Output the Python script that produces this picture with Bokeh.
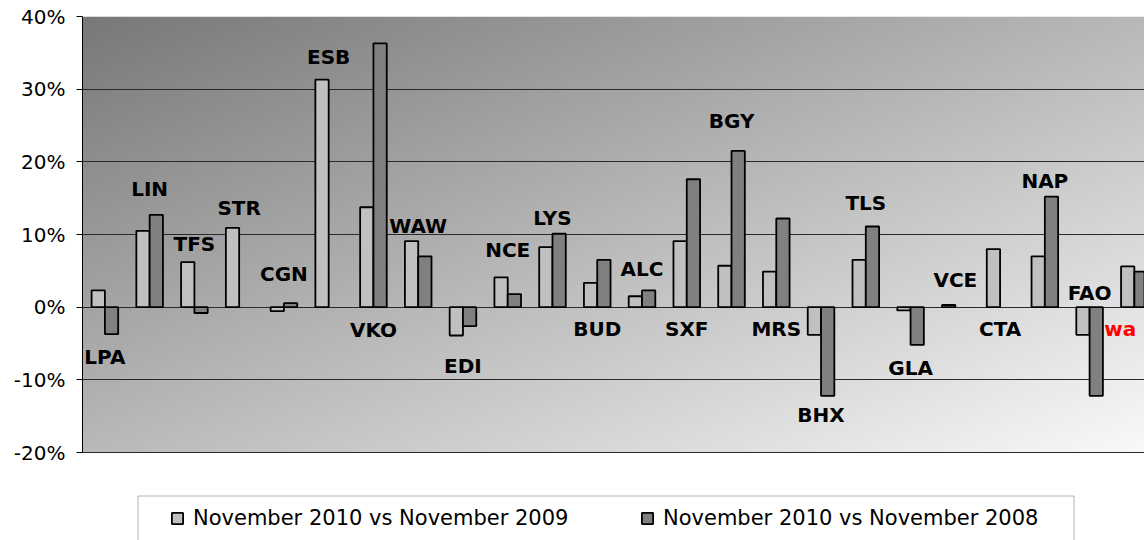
import numpy as np
from bokeh.plotting import figure
from bokeh.models import (ColumnDataSource, Range1d, FixedTicker, PrintfTickFormatter,
                          Legend, LegendItem, PolyAnnotation)
from bokeh.core.properties import value
from bokeh.transform import dodge
from bokeh.embed import file_html
from bokeh.resources import INLINE

nan = float("nan")

# ---- data (percent change) ----
airports = ["LPA", "LIN", "TFS", "STR", "CGN", "ESB", "VKO", "WAW", "EDI", "NCE", "LYS", "BUD",
            "ALC", "SXF", "BGY", "MRS", "BHX", "TLS", "GLA", "VCE", "CTA", "NAP", "FAO", "wa"]
vs_2009 = [2.3, 10.5, 6.2, 10.9, -0.55, 31.3, 13.75, 9.1, -3.9, 4.1, 8.25, 3.35,
           1.5, 9.1, 5.7, 4.9, -3.8, 6.5, -0.45, 0.3, 8.0, 7.0, -3.8, 5.6]
vs_2008 = [-3.7, 12.7, -0.8, nan, 0.55, nan, 36.3, 7.0, -2.6, 1.8, 10.1, 6.5,
           2.3, 17.6, 21.5, 12.2, -12.2, 11.1, -5.2, nan, nan, 15.2, -12.2, 4.9]
# vertical placement of the airport code labels (in % units)
label_y = [-6.9, 16.3, 8.7, 13.6, 4.5, 34.4, -3.2, 11.2, -8.1, 7.8, 12.3, -3.0,
           5.3, -3.0, 25.6, -3.0, -14.9, 14.4, -8.4, 3.8, -3.0, 17.4, 2.0, -3.0]
y_ticks = [-20, -10, 0, 10, 20, 30, 40]
series_names = ["November 2010 vs November 2009", "November 2010 vs November 2008"]

n = len(airports)
src = ColumnDataSource(dict(
    x=list(range(n)),
    v09=vs_2009,
    v08=vs_2008,
    label=airports,
    label_y=label_y,
    label_color=["red" if a == "wa" else "black" for a in airports],
    label_dx=[-14 if a == "wa" else 0 for a in airports],
))

W_FIG, H_FIG = 1144, 540
LEFT, TOP = 82, 16
px_per_cat = 44.76
frame_w = W_FIG - LEFT
x_end = -0.5 + frame_w / px_per_cat
px_per_pct = 436 / 60.0
frame_h = H_FIG - TOP
y_bottom = 40 - frame_h / px_per_pct

p = figure(width=W_FIG, height=H_FIG, output_backend="svg", toolbar_location=None,
           x_range=Range1d(-0.5, x_end), y_range=Range1d(y_bottom, 40),
           x_axis_location=None, min_border_left=LEFT, min_border_right=0,
           min_border_top=TOP, min_border_bottom=0)
p.outline_line_color = None
p.background_fill_color = "white"
p.border_fill_color = "white"
p.xgrid.visible = False

# diagonal gradient behind the plot area (-20%..40%)
H, W = 109, 269
u = (np.arange(W) + 0.5) / W
v = (np.arange(H) + 0.5) / H
t = (u[None, :] + (1.0 - v[:, None])) / 2.0
g = (120 + (250 - 120) * t).astype(np.uint8)
img = np.empty((H, W), dtype=np.uint32)
view = img.view(dtype=np.uint8).reshape((H, W, 4))
view[..., 0] = g
view[..., 1] = g
view[..., 2] = g
view[..., 3] = 255
p.image_rgba(image=[img], x=-0.5, y=-20, dw=24, dh=60, level="image")

# grid
p.ygrid.ticker = FixedTicker(ticks=y_ticks)
p.ygrid.grid_line_color = "#2a2a2a"
p.ygrid.grid_line_width = 1

# y axis
ax = p.yaxis[0]
ax.ticker = FixedTicker(ticks=y_ticks)
ax.bounds = (-20, 40)
ax.formatter = PrintfTickFormatter(format="%d%%")
ax.axis_line_color = "black"
ax.major_tick_line_color = "black"
ax.major_tick_out = 6
ax.major_tick_in = 0
ax.minor_tick_line_color = None
ax.major_label_standoff = 11
ax.major_label_text_font = "DejaVu Sans"
ax.major_label_text_font_size = "20px"
ax.major_label_text_color = "black"

bw = 0.297
r1 = p.vbar(x=dodge("x", -bw / 2, range=p.x_range), top="v09", bottom=0, width=bw, source=src,
            fill_color="#c0c0c0", line_color="black", line_width=1.8)
r2 = p.vbar(x=dodge("x", bw / 2, range=p.x_range), top="v08", bottom=0, width=bw, source=src,
            fill_color="#808080", line_color="black", line_width=1.8)

p.text(x="x", y="label_y", text="label", source=src, x_offset="label_dx",
       text_font=value("DejaVu Sans"), text_font_style="bold", text_font_size="20px",
       text_align="center", text_baseline="middle", text_color="label_color")

# legend box (open at the bottom, runs past the window edge) and legend
box = PolyAnnotation(xs=[55.5, 991.5, 991.5, 55.5], ys=[44.5, 44.5, -40, -40],
                     xs_units="screen", ys_units="screen",
                     fill_alpha=0, line_color="black", line_width=1)
p.add_layout(box)

legend = Legend(items=[LegendItem(label=series_names[0], renderers=[r1]),
                       LegendItem(label=series_names[1], renderers=[r2])],
                orientation="horizontal", location=(88, 10), padding=0, spacing=0, margin=0,
                glyph_width=14, glyph_height=14, label_standoff=9, label_width=447,
                label_text_font="DejaVu Sans", label_text_font_size="21px", label_text_color="black",
                border_line_alpha=0, background_fill_alpha=0)
p.add_layout(legend)

open("out.html", "w").write(file_html(p, INLINE))
